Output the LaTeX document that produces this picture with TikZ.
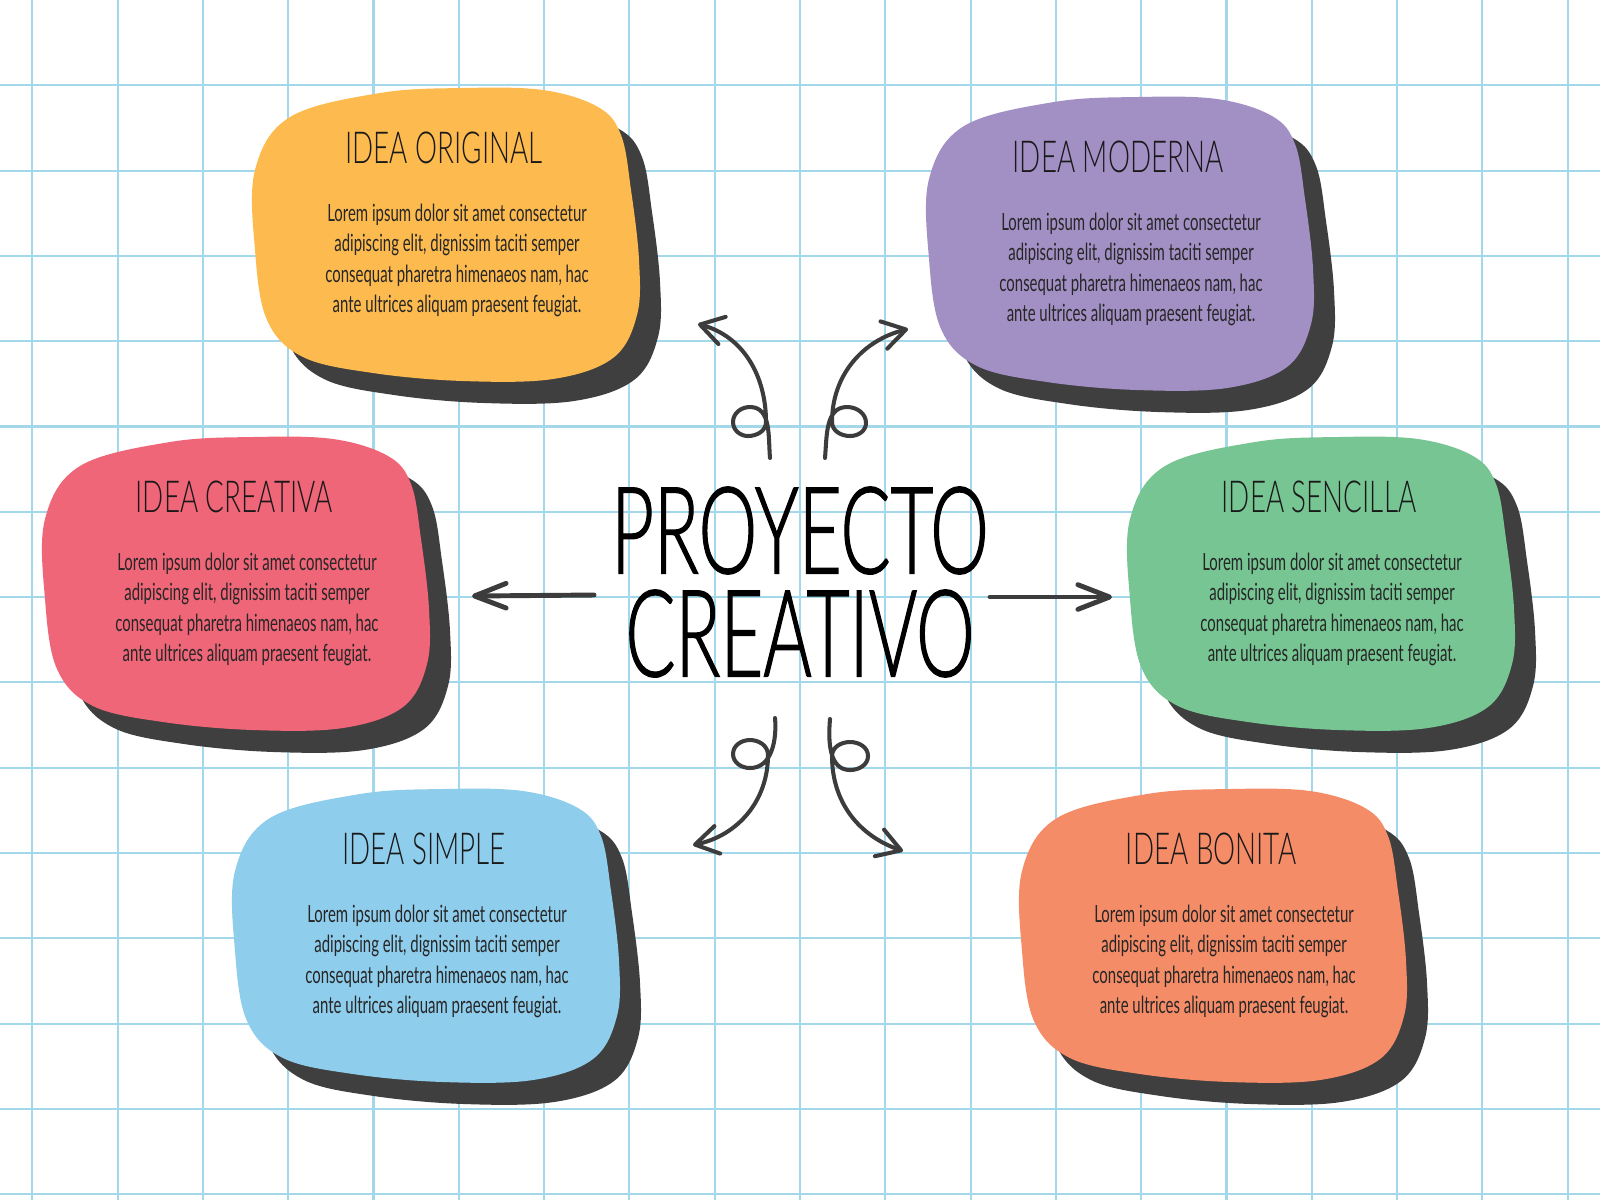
\documentclass[tikz,border=0pt]{standalone}
\usepackage{fontspec}
\newfontfamily\handfont[FakeStretch=0.63]{Lato}
\newfontfamily\thinfont[FakeStretch=0.63]{Lato Light}
\newfontfamily\bigfont[FakeStretch=0.61,FakeBold=1]{Lato Light}
\usetikzlibrary{arrows.meta}
\definecolor{gridblue}{HTML}{A3D8EA}
\definecolor{shadowgray}{HTML}{3F3F3F}
\definecolor{inkgray}{HTML}{3C3C3C}
\definecolor{ideayellow}{HTML}{FDBB4F}
\definecolor{ideapurple}{HTML}{A290C5}
\definecolor{ideared}{HTML}{EF6678}
\definecolor{ideagreen}{HTML}{76C593}
\definecolor{ideablue}{HTML}{8FCDEC}
\definecolor{ideaorange}{HTML}{F58C68}
\newcommand{\blobline}{plot[smooth cycle,tension=0.6] coordinates {(0.02,-0.80) (0.37,-0.27) (1.27,-0.03) (2.10,0.02) (2.90,0.00) (3.45,-0.17) (3.68,-0.45) (3.78,-1.00) (3.86,-1.70) (3.84,-2.25) (3.60,-2.68) (3.00,-2.89) (2.10,-2.91) (1.20,-2.83) (0.50,-2.67) (0.14,-2.30) (0.02,-1.60)}}
\newcommand{\lorem}{Lorem ipsum dolor sit amet consectetur\\adipiscing elit, dignissim taciti semper\\consequat pharetra himenaeos nam, hac\\ante ultrices aliquam praesent feugiat.}
\tikzset{
    gridline/.style={gridblue, line width=0.6pt},
    ideatitle/.style={font=\thinfont\fontsize{12.55}{15}\selectfont, text=black!90, inner sep=0pt},
    ideatext/.style={font=\handfont\fontsize{6.75}{8.65}\selectfont, align=center, text=black!85, inner sep=0pt},
    curly/.style={inkgray, line width=1.15pt, line cap=round, line join=round, -{Straight Barb[length=6.5pt,width=8pt,round]}},
    straight/.style={inkgray, line width=1.4pt, line cap=round, -{Straight Barb[length=9pt,width=7pt,round]}}
}

\begin{document}
\begin{tikzpicture}
        \useasboundingbox (0,0) rectangle (16,-12);
        \fill[white] (0,0) rectangle (16,-12);
        \foreach \k in {-9,...,9} \draw[gridline] ({8+0.853*\k},0) -- ({8+0.853*\k},-12);
        \foreach \k in {1,...,14} \draw[gridline] (0,{-0.853*\k}) -- (16,{-0.853*\k});
        \fill[shadowgray,shift={(2.74,-1.12)}] \blobline;
        \fill[ideayellow,shift={(2.53,-0.90)}] \blobline;
        \fill[shadowgray,shift={(9.48,-1.21)}] \blobline;
        \fill[ideapurple,shift={(9.27,-0.99)}] \blobline;
        \fill[shadowgray,shift={(0.64,-4.61)}] \blobline;
        \fill[ideared,shift={(0.43,-4.39)}] \blobline;
        \fill[shadowgray,shift={(11.49,-4.61)}] \blobline;
        \fill[ideagreen,shift={(11.28,-4.39)}] \blobline;
        \fill[shadowgray,shift={(2.54,-8.13)}] \blobline;
        \fill[ideablue,shift={(2.33,-7.91)}] \blobline;
        \fill[shadowgray,shift={(10.41,-8.13)}] \blobline;
        \fill[ideaorange,shift={(10.20,-7.91)}] \blobline;
        \node[ideatitle] (original) at (4.44,-1.475) {IDEA ORIGINAL};
        \node[ideatext] (originaltext) at (4.57,-2.605) {\lorem};
        \node[ideatitle] (moderna) at (11.18,-1.565) {IDEA MODERNA};
        \node[ideatext] (modernatext) at (11.31,-2.695) {\lorem};
        \node[ideatitle] (creativa) at (2.34,-4.965) {IDEA CREATIVA};
        \node[ideatext] (creativatext) at (2.47,-6.095) {\lorem};
        \node[ideatitle] (sencilla) at (13.19,-4.965) {IDEA SENCILLA};
        \node[ideatext] (sencillatext) at (13.32,-6.095) {\lorem};
        \node[ideatitle] (simple) at (4.24,-8.485) {IDEA SIMPLE};
        \node[ideatext] (simpletext) at (4.37,-9.615) {\lorem};
        \node[ideatitle] (bonita) at (12.11,-8.485) {IDEA BONITA};
        \node[ideatext] (bonitatext) at (12.24,-9.615) {\lorem};
        \node[font=\bigfont\fontsize{34.5}{29.3}\selectfont, align=center, inner sep=0pt] (proyecto) at (8.0,-5.82) {PROYECTO\\CREATIVO};
        \coordinate (leftstart) at (5.94,-5.95);
        \coordinate (leftend) at (4.72,-5.96);
        \coordinate (rightstart) at (9.90,-5.97);
        \coordinate (rightend) at (11.12,-5.97);
        \draw[straight] (leftstart) -- (leftend);
        \draw[straight] (rightstart) -- (rightend);
        \coordinate (ulstart) at (7.70,-4.58);
        \coordinate (ulend) at (6.98,-3.24);
        \coordinate (urstart) at (8.25,-4.58);
        \coordinate (urend) at (9.08,-3.29);
        \coordinate (llstart) at (7.75,-7.18);
        \coordinate (llend) at (6.93,-8.45);
        \coordinate (lrstart) at (8.30,-7.19);
        \coordinate (lrend) at (9.03,-8.51);
        \draw[curly] (ulstart) to[out=95,in=0] (7.50,-4.07) to[out=180,in=90] (7.33,-4.22) to[out=-90,in=180] (7.48,-4.36) to[out=0,in=-90] (7.66,-4.22) to[out=90,in=-15] (ulend);
        \draw[curly] (urstart) to[out=85,in=180] (8.47,-4.07) to[out=0,in=90] (8.66,-4.23) to[out=-90,in=0] (8.50,-4.36) to[out=180,in=-90] (8.32,-4.22) to[out=90,in=194] (urend);
        \draw[curly] (llstart) to[out=-85,in=0] (7.50,-7.68) to[out=180,in=-90] (7.33,-7.54) to[out=90,in=180] (7.50,-7.40) to[out=0,in=90] (7.68,-7.55) to[out=-90,in=12] (llend);
        \draw[curly] (lrstart) to[out=-95,in=180] (8.50,-7.70) to[out=0,in=-90] (8.68,-7.56) to[out=90,in=0] (8.50,-7.42) to[out=180,in=90] (8.32,-7.56) to[out=-90,in=161] (lrend);
\end{tikzpicture}
\end{document}
